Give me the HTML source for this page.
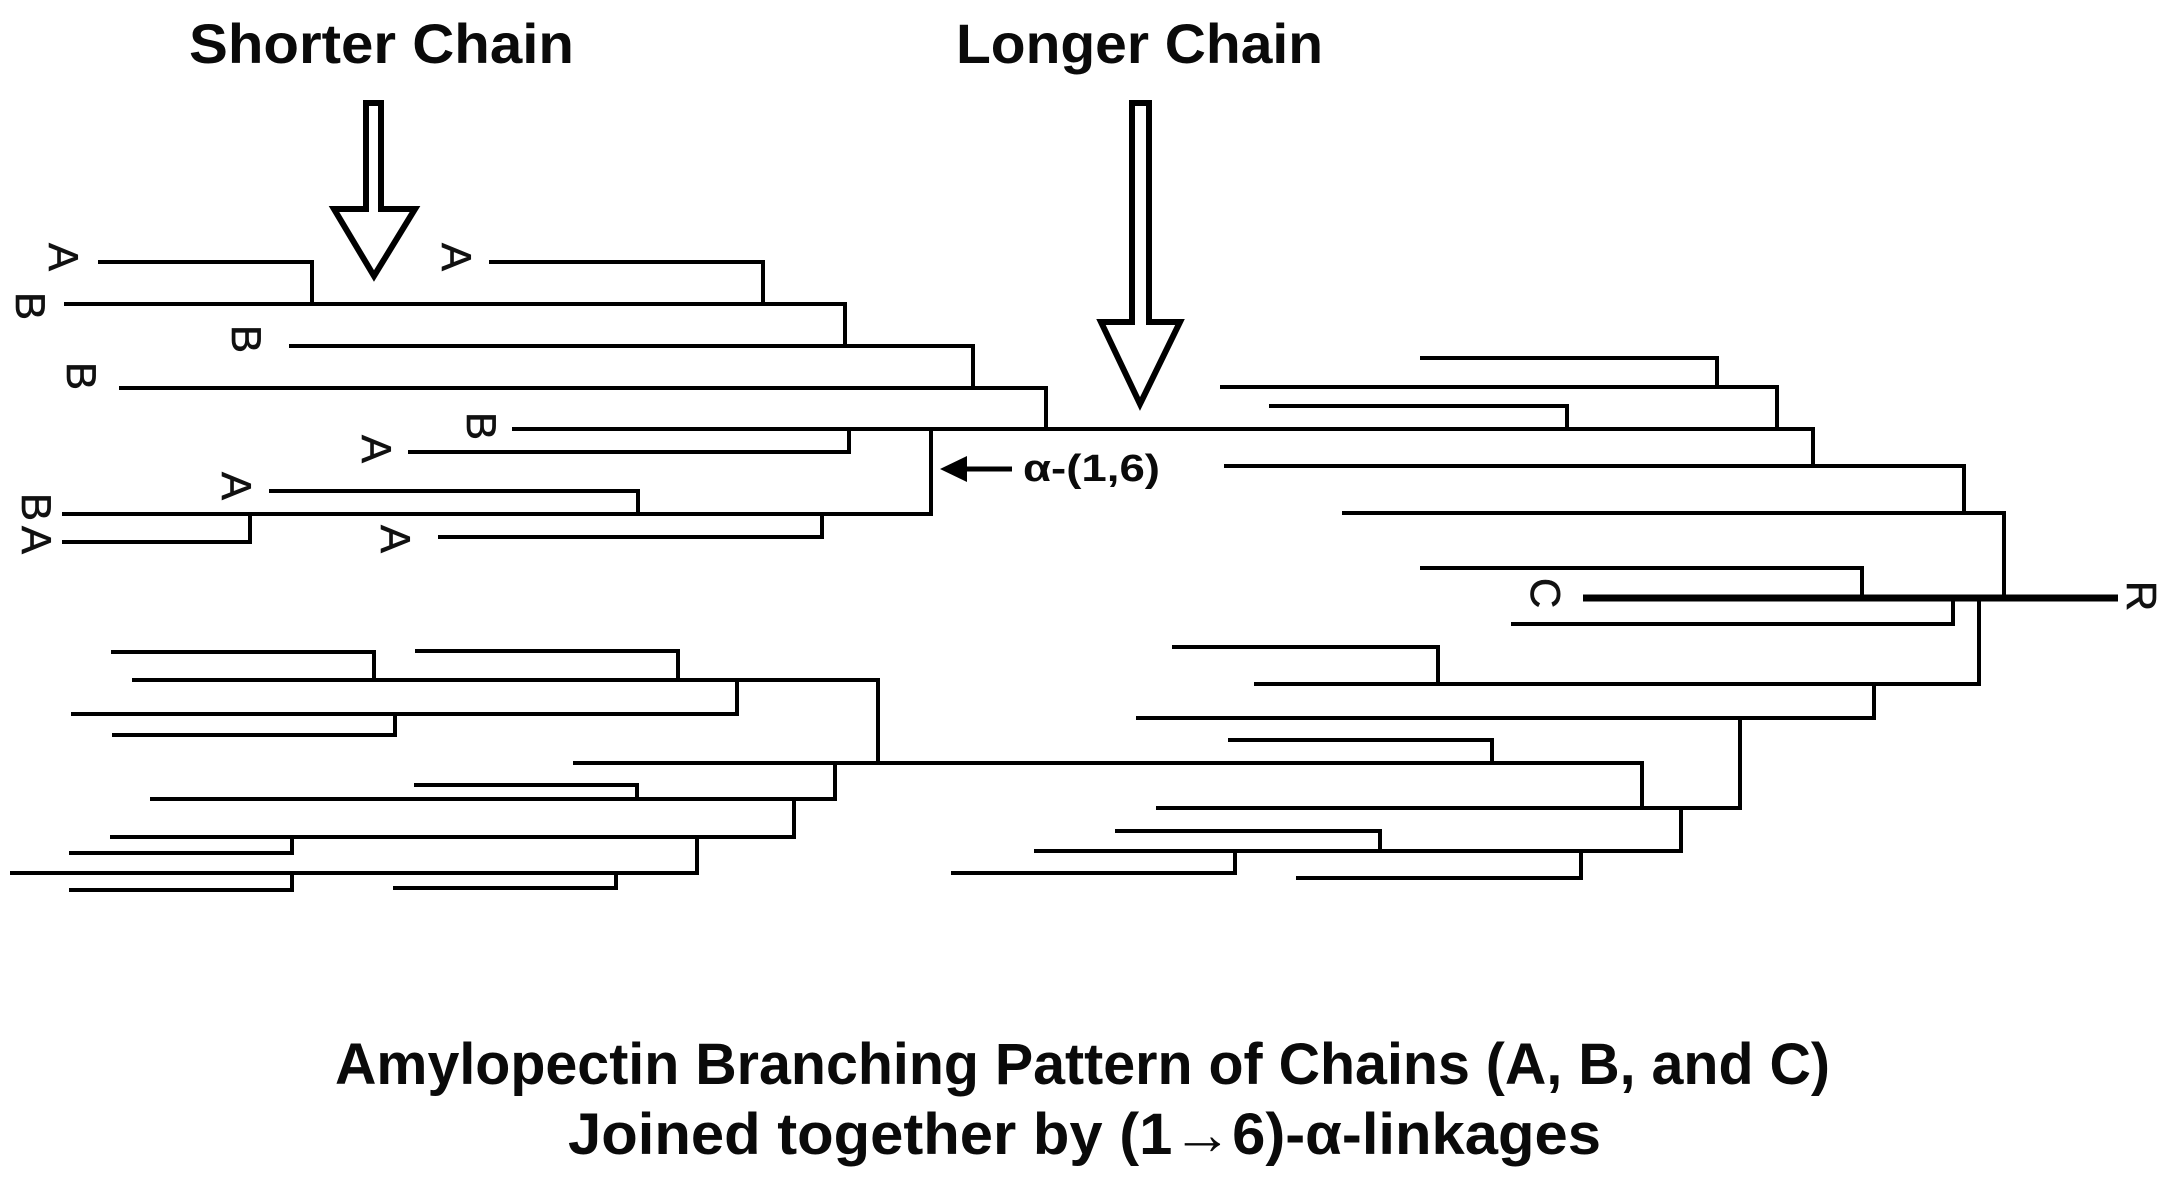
<!DOCTYPE html>
<html><head><meta charset="utf-8"><style>
html,body{margin:0;padding:0;background:#fff;width:2174px;height:1184px;overflow:hidden}
svg{display:block}
.t{font-family:"Liberation Sans",sans-serif;font-weight:700;fill:#0a0a0a}
.l{font-family:"Liberation Sans",sans-serif;font-size:42px;fill:#111;text-anchor:middle;stroke:#111;stroke-width:.6}
</style></head><body>
<svg width="2174" height="1184" viewBox="0 0 2174 1184" xmlns="http://www.w3.org/2000/svg">
<rect width="2174" height="1184" fill="#fff"/>
<text class="t" x="189" y="63" font-size="56" textLength="385" lengthAdjust="spacingAndGlyphs">Shorter Chain</text>
<text class="t" x="956" y="63" font-size="56" textLength="367" lengthAdjust="spacingAndGlyphs">Longer Chain</text>
<text class="t" x="335" y="1084" font-size="58" textLength="1495" lengthAdjust="spacingAndGlyphs">Amylopectin Branching Pattern of Chains (A, B, and C)</text>
<text class="t" x="568" y="1154" font-size="58" textLength="1033" lengthAdjust="spacingAndGlyphs">Joined together by (1→6)-α-linkages</text>
<text class="t" x="1023" y="481" font-size="38" textLength="137" lengthAdjust="spacingAndGlyphs">α-(1,6)</text>

<polygon points="366,103 381,103 381,209 415,209 374,276 334,209 366,209" fill="#fff" stroke="#000" stroke-width="6"/>
<polygon points="1132,103 1149,103 1149,322 1180,322 1140,404 1101,322 1132,322" fill="#fff" stroke="#000" stroke-width="6"/>
<polygon points="940,469 967,456 967,482" fill="#000"/>
<line x1="960" y1="469" x2="1012" y2="469" stroke="#000" stroke-width="5"/>

<g fill="none" stroke="#000" stroke-width="4" stroke-linejoin="miter">
<path d="M98 262H312V304"/>
<path d="M64 304H845V346"/>
<path d="M489 262H763V304"/>
<path d="M289 346H973V388"/>
<path d="M119 388H1046V429"/>
<path d="M512 429H1813V466"/>
<path d="M408 452H849V429"/>
<path d="M931 429V514H62"/>
<path d="M269 491H638V514"/>
<path d="M62 542H250V514"/>
<path d="M438 537H822V514"/>

<path d="M1420 358H1717V387"/>
<path d="M1220 387H1777V428"/>
<path d="M1269 406H1567V428"/>
<path d="M1224 466H1964V513"/>
<path d="M1342 513H2004V597"/>
<path d="M1420 568H1862V597"/>
<path d="M1511 624H1953V598"/>
<path d="M1979 598V684H1254"/>
<path d="M1172 647H1438V684"/>
<path d="M1874 684V718H1136"/>
<path d="M1740 718V808H1156"/>
<path d="M1228 740H1492V763"/>
<path d="M573 763H1642V808"/>
<path d="M1681 808V851H1034"/>
<path d="M1115 831H1380V851"/>
<path d="M951 873H1235V851"/>
<path d="M1296 878H1581V851"/>

<path d="M111 652H374V680"/>
<path d="M415 651H678V680"/>
<path d="M132 680H878V763"/>
<path d="M737 680V714H71"/>
<path d="M112 735H395V714"/>
<path d="M835 763V799H150"/>
<path d="M414 785H637V799"/>
<path d="M794 799V837H110"/>
<path d="M697 837V873H10"/>
<path d="M69 853H292V837"/>
<path d="M69 890H292V873"/>
<path d="M393 888H616V873"/>
</g>
<line x1="1583" y1="598" x2="2118" y2="598" stroke="#000" stroke-width="7"/>

<g class="labels">
<text class="l" transform="translate(64 257) rotate(90)" y="15">A</text>
<text class="l" transform="translate(31 306) rotate(90)" y="15">B</text>
<text class="l" transform="translate(457 257) rotate(90)" y="15">A</text>
<text class="l" transform="translate(247 339) rotate(90)" y="15">B</text>
<text class="l" transform="translate(82 376) rotate(90)" y="15">B</text>
<text class="l" transform="translate(482 426) rotate(90)" y="15">B</text>
<text class="l" transform="translate(377 449) rotate(90)" y="15">A</text>
<text class="l" transform="translate(237 486) rotate(90)" y="15">A</text>
<text class="l" transform="translate(37 507) rotate(90)" y="15">B</text>
<text class="l" transform="translate(37 540) rotate(90)" y="15">A</text>
<text class="l" transform="translate(396 539) rotate(90)" y="15">A</text>
<text class="l" transform="translate(1546 593) rotate(90)" y="15">C</text>
<text class="l" transform="translate(2142 596) rotate(90)" y="15">R</text>
</g>
</svg>
</body></html>
